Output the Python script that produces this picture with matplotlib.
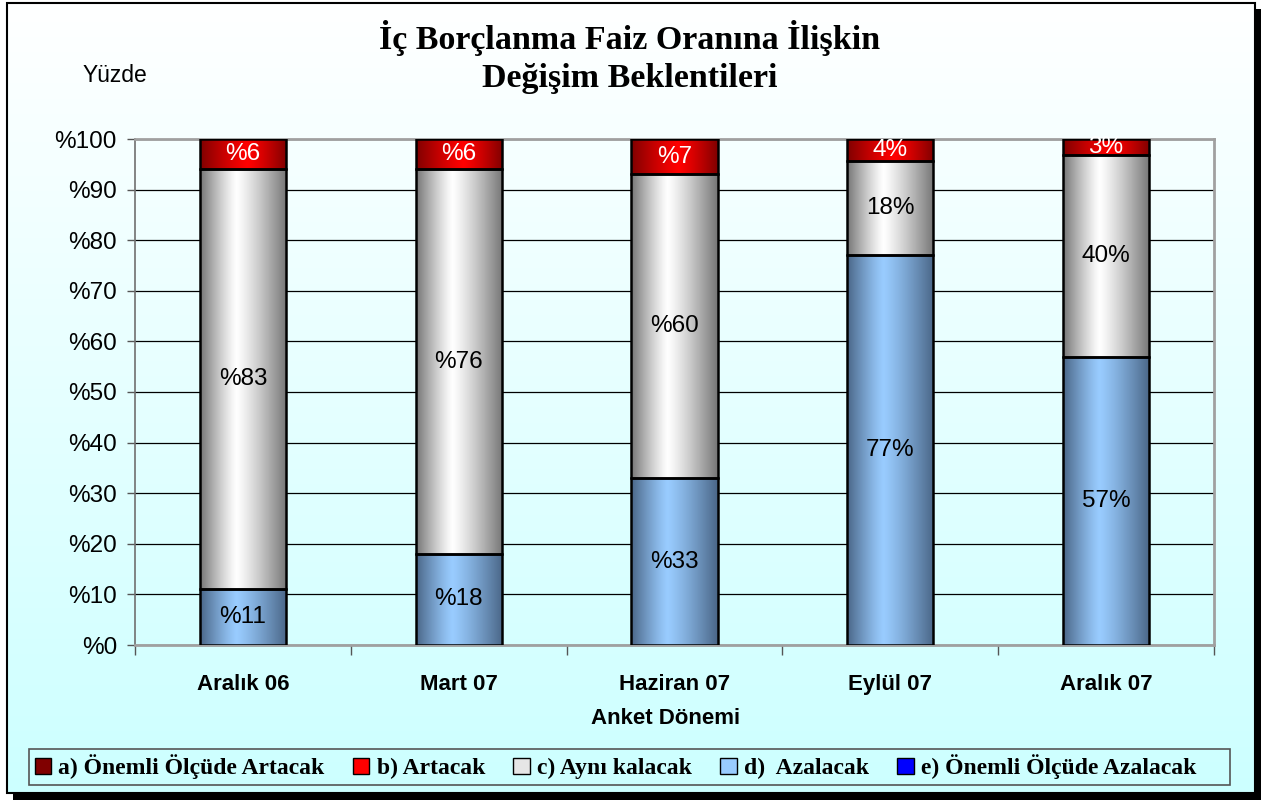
import numpy as np
import matplotlib.pyplot as plt
from matplotlib.patches import Rectangle, Patch

# Data
periods = ['Aralık 06', 'Mart 07', 'Haziran 07', 'Eylül 07', 'Aralık 07']
a_onemli_artacak = [0, 0, 0, 0, 0]
b_artacak = [6, 6, 7, 4.4, 3.2]
c_ayni = [83, 76, 60, 18.6, 39.8]
d_azalacak = [11, 18, 33, 77, 57]
e_onemli_azalacak = [0, 0, 0, 0, 0]

b_labels = ['%6', '%6', '%7', '4%', '3%']
c_labels = ['%83', '%76', '%60', '18%', '40%']
d_labels = ['%11', '%18', '%33', '77%', '57%']

legend_labels = ['a) Önemli Ölçüde Artacak', 'b) Artacak', 'c) Aynı kalacak',
                 'd)  Azalacak', 'e) Önemli Ölçüde Azalacak']
ytick_labels = ['%0', '%10', '%20', '%30', '%40', '%50', '%60', '%70', '%80', '%90', '%100']
title_lines = ['İç Borçlanma Faiz Oranına İlişkin', 'Değişim Beklentileri']

W, H = 1261, 800
fig = plt.figure(figsize=(W / 100, H / 100), dpi=100)


def fx(px):
    return px / W


def fy(py):
    return 1 - py / H


# background with vertical gradient and framed shadow box
bg = fig.add_axes([0, 0, 1, 1], zorder=-5)
bg.set_xlim(0, W)
bg.set_ylim(H, 0)
bg.axis('off')
top_c = np.array([1.0, 1.0, 1.0])
bot_c = np.array([0.80, 1.0, 1.0])
g = np.linspace(0, 1, 256)[:, None, None]
grad = top_c * (1 - g) + bot_c * g
bg.add_patch(Rectangle((13, 9), 1248, 791, facecolor='black', edgecolor='none'))
bg.imshow(grad, extent=(7, 1255, 793, 3), aspect='auto', zorder=2)
bg.add_patch(Rectangle((7, 3), 1248, 790, facecolor='none', edgecolor='black', lw=1.5, zorder=3))
# legend box
bg.add_patch(Rectangle((29, 749), 1201, 36, facecolor='none', edgecolor='#555555', lw=1.2, zorder=3))


def hgrad(edge, center, peak=0.45, n=200):
    x = np.linspace(0, 1, n)
    t = np.where(x < peak, (peak - x) / peak, (x - peak) / (1 - peak)) ** 1.2
    edge = np.array(edge)
    center = np.array(center)
    cols = center * (1 - t)[:, None] + edge * t[:, None]
    return cols[None, :, :]


red_grad = hgrad((0.50, 0.0, 0.0), (1.0, 0.0, 0.0), peak=0.55)
gray_grad = hgrad((0.46, 0.46, 0.46), (1.0, 1.0, 1.0), peak=0.42)
blue_grad = hgrad((0.29, 0.40, 0.53), (0.60, 0.80, 1.0), peak=0.42)

ax = fig.add_axes([fx(135), fy(645), fx(1214 - 135), (645 - 139) / H])
ax.patch.set_visible(False)

x = np.arange(len(periods))
width = 0.4
series = [
    (d_azalacak, d_labels, blue_grad, 'black'),
    (c_ayni, c_labels, gray_grad, 'black'),
    (b_artacak, b_labels, red_grad, 'white'),
]
bottom = np.zeros(len(periods))
for vals, labels, gimg, tcol in series:
    bars = ax.bar(x, vals, width, bottom=bottom, facecolor='none',
                  edgecolor='black', lw=1.8, zorder=4)
    for rect, lab in zip(bars, labels):
        x0, y0 = rect.get_x(), rect.get_y()
        w, h = rect.get_width(), rect.get_height()
        im = ax.imshow(gimg, extent=(x0, x0 + w, y0, y0 + h), aspect='auto', zorder=3)
        im.set_clip_path(rect)
        ax.text(x0 + w / 2, y0 + h / 2, lab, ha='center', va='center',
                fontsize=17.5, color=tcol, family='Liberation Sans', zorder=5)
    bottom += np.array(vals)

ax.set_xlim(-0.5, len(periods) - 0.5)
ax.set_ylim(0, 100)

ax.set_yticks(np.arange(0, 101, 10))
ax.set_yticklabels(ytick_labels, family='Liberation Sans', fontsize=17.5)
ax.tick_params(axis='y', length=6, width=1, color='#555555', pad=7)
ax.yaxis.grid(True, color='black', lw=0.9)
ax.set_axisbelow(True)

ax.set_xticks(x)
ax.set_xticklabels(periods, family='Liberation Sans', fontsize=16, fontweight='bold')
ax.tick_params(axis='x', which='major', length=0, pad=21)
ax.set_xticks(np.arange(-0.5, len(periods), 1), minor=True)
ax.tick_params(axis='x', which='minor', length=7, width=1, color='#555555')

for side in ['top', 'right', 'bottom']:
    ax.spines[side].set_color('#a0a0a0')
    ax.spines[side].set_linewidth(2)
ax.spines['left'].set_color('#707070')
ax.spines['left'].set_linewidth(1.2)

fig.text(fx(666), fy(718), 'Anket Dönemi', ha='center', va='center',
         family='Liberation Sans', fontsize=16, fontweight='bold')
fig.text(fx(115), fy(75), 'Yüzde', ha='center', va='center',
         family='Liberation Sans', fontsize=16.5)
fig.text(fx(630), fy(38), title_lines[0], ha='center', va='center',
         family='Liberation Serif', fontsize=24.5, fontweight='bold')
fig.text(fx(630), fy(78), title_lines[1], ha='center', va='center',
         family='Liberation Serif', fontsize=24.5, fontweight='bold')

legend_colors = ['#800000', '#ff0000', '#e6e6e6', '#99ccff', '#0000ff']
handles = [Patch(facecolor=c, edgecolor='black', lw=1) for c in legend_colors]
fig.legend(handles, legend_labels, loc='center left', bbox_to_anchor=(fx(30), fy(767)),
           ncol=5, frameon=False, borderaxespad=0, borderpad=0.2,
           handlelength=0.7, handleheight=0.7, handletextpad=0.3, columnspacing=1.2,
           prop={'family': 'Liberation Serif', 'weight': 'bold', 'size': 17})

fig.savefig('out.png', dpi=100)
